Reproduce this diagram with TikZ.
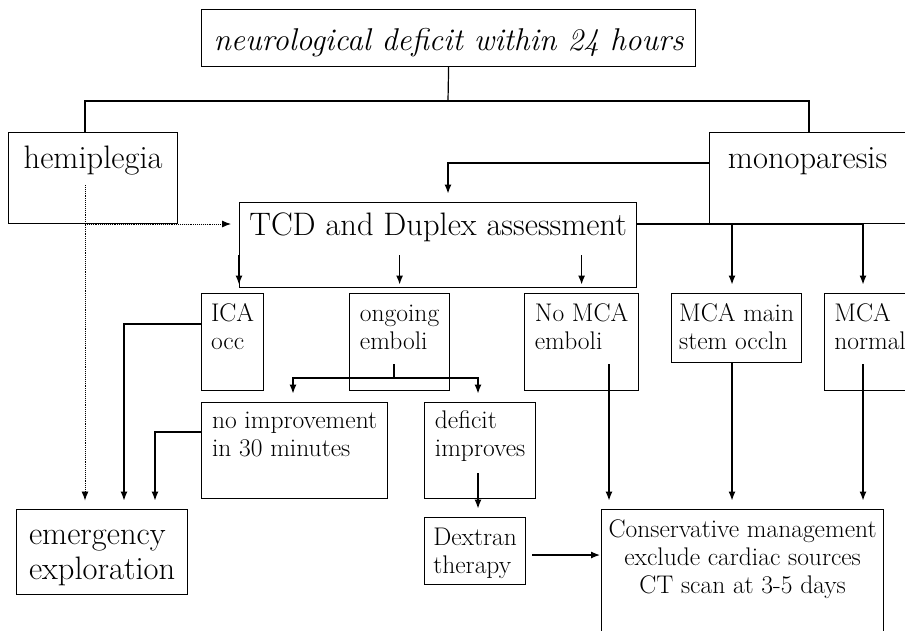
\documentclass[tikz,border=0pt]{standalone}
\usetikzlibrary{arrows.meta}
\tikzset{
  box/.style={draw, line width=1.2pt, inner sep=0pt, anchor=north west, align=left, font=\fontsize{25.5}{28}\selectfont},
  big/.style={font=\fontsize{32.5}{37}\selectfont},
  arr/.style={-{Latex[length=9pt,width=7pt]}, shorten >=8.5pt},
  dots/.style={densely dotted, line width=0.9pt},
}
\begin{document}
\begin{tikzpicture}[x=1pt, y=-1pt, line width=1.2pt]
  \useasboundingbox (0,0) rectangle (905,630);
  % boxes
  \node[box, minimum width=494pt, text height=41pt, text depth=16pt, align=center, font=\fontsize{31.5}{36}\selectfont\itshape] (cause) at (201,9) {neurological deficit within 24 hours};
  \node[box, big, minimum width=169pt, text height=36pt, text depth=55pt] (hemi) at (8,132) {hemiplegia};
  \node[box, big, minimum width=196pt, text height=36pt, text depth=55pt] (mono) at (709,132) {monoparesis};
  \node[box, big, minimum width=397pt, text height=33pt, text depth=52pt] (tcd) at (239,202) {TCD and Duplex assessment};
  \node[box, minimum width=62pt, text height=56pt, text depth=41pt] (ica) at (201,293) {ICA\\occ};
  \node[box, minimum width=100pt, text height=56pt, text depth=41pt] (ongoing) at (349,293) {ongoing\\emboli};
  \node[box, minimum width=114pt, text height=56pt, text depth=41pt] (nomca) at (524,293) {No MCA\\emboli};
  \node[box, minimum width=130pt, text height=56pt, text depth=13pt] (mcamain) at (671,293) {MCA main\\stem occln};
  \node[box, minimum width=91pt, text height=56pt, text depth=41pt] (mcanorm) at (824,293) {MCA\\normal};
  \node[box, minimum width=186pt, text height=54pt, text depth=42pt] (noimp) at (201,402) {no improvement\\in 30 minutes};
  \node[box, minimum width=111pt, text height=54pt, text depth=42pt] (defimp) at (424,402) {deficit\\improves};
  \node[box, minimum width=171pt, text height=70pt, text depth=15pt, font=\fontsize{32.5}{35}\selectfont] (emerg) at (16,509) {emergency\\exploration};
  \node[box, minimum width=101pt, text height=56pt, text depth=11pt] (dextran) at (424,517) {Dextran\\therapy};
  \node[box, minimum width=282pt, text height=84pt, text depth=47pt, align=center] (cons) at (601,509) {Conservative management\\exclude cardiac sources\\CT scan at 3-5 days};
  % connectors
  \coordinate (fork) at (448,101);
  \draw (cause.south) -- (fork);
  \draw (hemi.north -| 85,0) |- (fork) -| (mono.north -| 809,0);
  \draw[arr] (mono.west |- 0,163) -| (tcd.north -| 448,0);
  \coordinate (hemidrop) at (85,185);
  \draw[dots, arr] (hemidrop) -- (emerg.north -| 85,0);
  \draw[dots, arr, shorten >=8pt] (hemidrop |- 0,224) -- (tcd.west |- 0,224);
  \draw[arr] (tcd.west |- 0,255) -- (tcd.west |- ica.north);
  \draw[arr] (ongoing.north |- 0,255) -- (ongoing.north);
  \draw[arr] (nomca.north |- 0,255) -- (nomca.north);
  \coordinate (tcdright) at (tcd.east |- 0,224);
  \draw[arr] (tcdright) -| (mcamain.north -| 732,0);
  \draw[arr] (tcdright) -| (mcanorm.north -| 863,0);
  \draw[arr] (ica.west |- 0,324) -| (emerg.north -| 124,0);
  \coordinate (embfork) at (394,378);
  \draw (ongoing.south -| 394,0) ++(0,-27) -- (embfork);
  \draw[arr] (embfork) -| (noimp.north -| 293,0);
  \draw[arr] (embfork) -| (defimp.north -| 478,0);
  \draw[arr] (noimp.west |- 0,432) -| (emerg.north -| 155,0);
  \draw[arr] (defimp.south -| 478,0) ++(0,-26) -- (dextran.north -| 478,0);
  \draw[arr, shorten <=6pt, shorten >=1pt] (dextran.east |- 0,555) -- (cons.west |- 0,555);
  \draw[arr] (nomca.south -| 609,0) ++(0,-27) -- (cons.north -| 609,0);
  \draw[arr] (mcamain.south -| 732,0) -- (cons.north -| 732,0);
  \draw[arr] (mcanorm.south -| 863,0) ++(0,-27) -- (cons.north -| 863,0);
\end{tikzpicture}
\end{document}
